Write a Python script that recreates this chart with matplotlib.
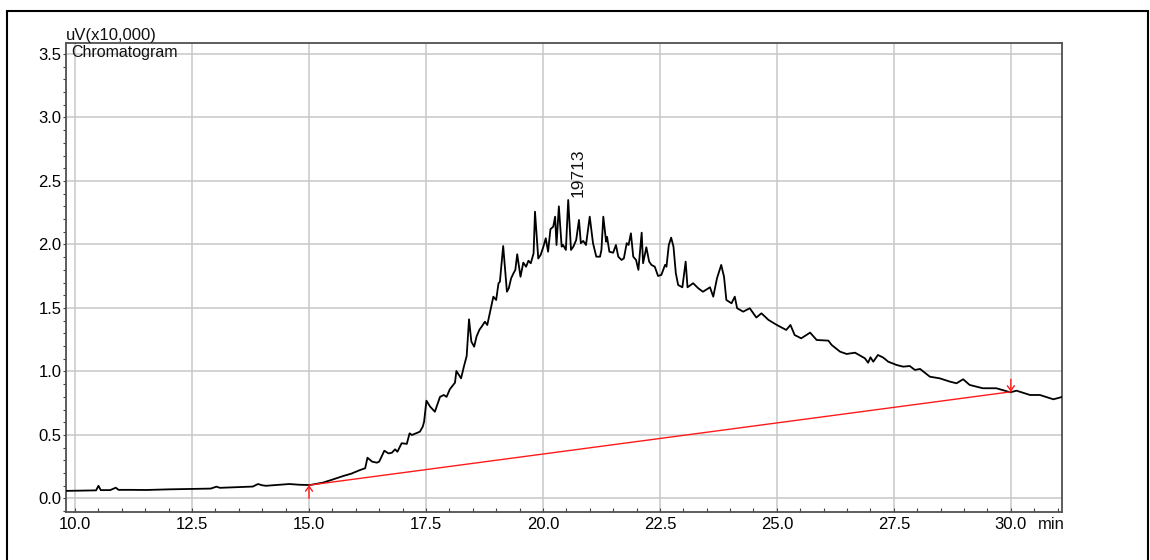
import matplotlib
matplotlib.use("Agg")
import matplotlib.pyplot as plt
from matplotlib.ticker import MultipleLocator, FormatStrFormatter
from matplotlib.patches import Rectangle

plt.rcParams['font.family'] = ['Liberation Sans', 'DejaVu Sans']

# ---- data (time in min, signal in uV x10,000) ----
time_min = [
    9.82, 10.20, 10.45, 10.50, 10.55, 10.75, 10.87, 10.93, 11.20, 11.53,
    12.00, 12.52, 12.90, 13.02, 13.10, 13.38, 13.80, 13.91, 14.00, 14.08,
    14.30, 14.58, 14.80, 15.02, 15.30, 15.52, 15.73, 15.90, 16.09, 16.20,
    16.25, 16.35, 16.45, 16.50, 16.61, 16.70, 16.77, 16.84, 16.89, 16.98,
    17.09, 17.15, 17.20, 17.37, 17.43, 17.46, 17.51, 17.59, 17.69, 17.74,
    17.80, 17.88, 17.94, 18.01, 18.12, 18.15, 18.25, 18.31, 18.37, 18.42,
    18.47, 18.53, 18.58, 18.64, 18.69, 18.76, 18.81, 18.88, 18.94, 19.00,
    19.05, 19.08, 19.15, 19.23, 19.27, 19.32, 19.37, 19.41, 19.45, 19.52,
    19.58, 19.64, 19.69, 19.74, 19.80, 19.83, 19.90, 19.95, 20.01, 20.06,
    20.11, 20.16, 20.22, 20.26, 20.29, 20.34, 20.40, 20.43, 20.49, 20.54,
    20.60, 20.65, 20.71, 20.77, 20.81, 20.86, 20.92, 21.00, 21.07, 21.14,
    21.22, 21.25, 21.29, 21.35, 21.37, 21.42, 21.50, 21.56, 21.61, 21.68,
    21.73, 21.79, 21.83, 21.88, 21.93, 21.99, 22.04, 22.11, 22.14, 22.21,
    22.27, 22.32, 22.39, 22.46, 22.53, 22.61, 22.64, 22.69, 22.74, 22.79,
    22.84, 22.89, 22.98, 23.05, 23.09, 23.21, 23.32, 23.42, 23.57, 23.64,
    23.72, 23.81, 23.87, 23.92, 24.03, 24.10, 24.15, 24.28, 24.42, 24.56,
    24.67, 24.82, 25.00, 25.20, 25.29, 25.38, 25.52, 25.71, 25.85, 26.10,
    26.17, 26.35, 26.49, 26.67, 26.88, 26.95, 27.00, 27.06, 27.16, 27.27,
    27.38, 27.56, 27.70, 27.84, 27.95, 28.06, 28.27, 28.48, 28.70, 28.84,
    28.98, 29.12, 29.40, 29.69, 29.99, 30.12, 30.41, 30.62, 30.91, 31.10,
]
signal = [
    0.060, 0.062, 0.064, 0.100, 0.066, 0.066, 0.085, 0.068, 0.068, 0.067,
    0.072, 0.075, 0.078, 0.093, 0.084, 0.088, 0.094, 0.114, 0.104, 0.100,
    0.106, 0.114, 0.108, 0.106, 0.125, 0.151, 0.177, 0.195, 0.224, 0.238,
    0.321, 0.290, 0.282, 0.290, 0.376, 0.355, 0.360, 0.387, 0.368, 0.435,
    0.430, 0.513, 0.500, 0.526, 0.565, 0.605, 0.770, 0.723, 0.683, 0.736,
    0.800, 0.815, 0.800, 0.860, 0.912, 1.004, 0.946, 1.038, 1.122, 1.411,
    1.235, 1.195, 1.274, 1.327, 1.353, 1.392, 1.366, 1.484, 1.589, 1.563,
    1.694, 1.707, 1.988, 1.628, 1.655, 1.734, 1.773, 1.800, 1.923, 1.746,
    1.857, 1.825, 1.872, 1.852, 1.930, 2.258, 1.890, 1.917, 1.983, 2.049,
    1.943, 2.120, 2.140, 2.219, 1.996, 2.300, 1.983, 1.996, 1.957, 2.350,
    1.957, 1.983, 2.035, 2.193, 2.010, 2.028, 1.996, 2.219, 2.010, 1.904,
    1.904, 1.957, 2.219, 2.022, 2.060, 1.943, 1.935, 1.996, 1.904, 1.878,
    1.891, 2.010, 1.996, 2.088, 1.904, 1.878, 1.800, 2.093, 1.852, 1.978,
    1.865, 1.839, 1.825, 1.752, 1.760, 1.839, 1.825, 1.996, 2.054, 1.983,
    1.773, 1.681, 1.663, 1.865, 1.663, 1.695, 1.655, 1.628, 1.663, 1.589,
    1.734, 1.839, 1.746, 1.563, 1.537, 1.589, 1.498, 1.471, 1.498, 1.425,
    1.458, 1.406, 1.366, 1.327, 1.366, 1.287, 1.261, 1.306, 1.248, 1.243,
    1.209, 1.156, 1.138, 1.148, 1.104, 1.069, 1.112, 1.077, 1.130, 1.110,
    1.077, 1.051, 1.038, 1.043, 1.012, 1.020, 0.959, 0.946, 0.920, 0.907,
    0.939, 0.894, 0.868, 0.868, 0.836, 0.849, 0.815, 0.815, 0.781, 0.800,
]
baseline_t = [15.0, 30.0]
baseline_v = [0.105, 0.84]
peak_t = 20.54
peak_v = 2.35
peak_label = "19713"
xticks = [10.0, 12.5, 15.0, 17.5, 20.0, 22.5, 25.0, 27.5, 30.0]
yticks = [0.0, 0.5, 1.0, 1.5, 2.0, 2.5, 3.0, 3.5]

W, H = 1150, 560
fig = plt.figure(figsize=(W / 100, H / 100), dpi=100)
ax = fig.add_axes([65.7 / W, 1 - 511.7 / H, (1062.3 - 65.7) / W, (511.7 - 43.3) / H])

ax.set_xlim(9.80, 31.10)
ax.set_ylim(-0.104, 3.584)

ax.grid(True, color='#c8c8c8', linewidth=1.1)
ax.set_axisbelow(True)
ax.set_xticks(xticks)
ax.set_yticks(yticks)
ax.xaxis.set_major_formatter(FormatStrFormatter('%.1f'))
ax.yaxis.set_major_formatter(FormatStrFormatter('%.1f'))
ax.xaxis.set_minor_locator(MultipleLocator(0.5))
ax.yaxis.set_minor_locator(MultipleLocator(0.1))
ax.tick_params(axis='x', which='both', direction='in', length=3, width=0.8,
               color='#444444', labelsize=12, pad=3.6)
ax.tick_params(axis='y', which='both', direction='out', length=2, width=0.8,
               color='#444444', labelsize=12, pad=1.2)
for s in ax.spines.values():
    s.set_color('#505050')
    s.set_linewidth(1.3)

# chromatogram trace
ax.plot(time_min, signal, color='black', linewidth=1.3, zorder=3)

# integration baseline
ax.plot(baseline_t, baseline_v, color='#ff1a1a', linewidth=1.0, zorder=4)
ax.annotate('', xy=(baseline_t[0], baseline_v[0]), xytext=(0, -9.5),
            textcoords='offset points',
            arrowprops=dict(arrowstyle='->,head_length=0.35,head_width=0.25',
                            color='#ff1a1a', lw=1.0, shrinkA=0, shrinkB=0))
ax.annotate('', xy=(baseline_t[1], baseline_v[1]), xytext=(0, 9),
            textcoords='offset points',
            arrowprops=dict(arrowstyle='->,head_length=0.35,head_width=0.25',
                            color='#ff1a1a', lw=1.0, shrinkA=0, shrinkB=0))

# peak label
ax.annotate(peak_label, xy=(peak_t, peak_v), xytext=(7.0, 2.2),
            textcoords='offset points', rotation=90, ha='center', va='bottom',
            fontsize=12.5, color='#111111')

# texts
ax.text(0.0, 1.0, 'uV(x10,000)', transform=ax.transAxes, ha='left', va='bottom',
        fontsize=12, color='#111111')
ax.annotate('Chromatogram', xy=(0, 1), xycoords='axes fraction', xytext=(4, -1.5),
            textcoords='offset points', ha='left', va='top', fontsize=11.5,
            color='#111111')
ax.annotate('min', xy=(30.0, 0), xycoords=('data', 'axes fraction'),
            xytext=(19.5, -3.6), textcoords='offset points', ha='left', va='top',
            fontsize=12, color='#111111')

# outer frame
fig.patches.append(Rectangle((7 / W, -0.05), (1148 - 7) / W, 1.05 - 11 / H,
                             transform=fig.transFigure, fill=False,
                             edgecolor='black', linewidth=1.5))

fig.savefig('out.png', dpi=100)
